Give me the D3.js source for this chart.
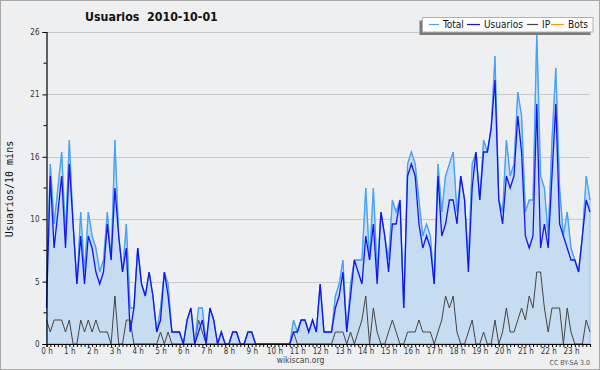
<!DOCTYPE html>
<html>
<head>
<meta charset="utf-8">
<script src="https://cdn.jsdelivr.net/npm/d3@7"></script>
<style>
    body { margin: 0; background: #fff; }
    svg { display: block; }
    text { font-family: "DejaVu Sans Condensed", "DejaVu Sans", sans-serif; font-stretch: condensed; }
</style>
</head>
<body>
<svg id="chart" width="600" height="370"></svg>
<script>
// hour labels on the x axis, one point every 10 minutes
const hourLabels = d3.range(24).map(h => h + ' h');

// values per 10 minutes, one row per hour
const usuarios = [
    3, 14, 8, 11, 14, 8,
    15, 10, 5, 9, 5, 9,
    8, 6, 5, 6, 10, 7,
    13, 9, 6, 8, 1, 3,
    8, 5, 4, 6, 4, 1,
    2, 6, 4, 1, 1, 1,
    0, 2, 3, 0, 1, 2,
    0, 3, 2, 0, 1, 0,
    0, 1, 1, 0, 0, 1,
    1, 0, 0, 0, 0, 0,
    0, 0, 0, 0, 0, 1,
    1, 2, 2, 1, 2, 1,
    5, 1, 1, 1, 3, 4,
    6, 1, 4, 7, 6, 5,
    9, 7, 10, 5, 11, 9,
    6, 10, 10, 12, 3, 14,
    15, 14, 10, 8, 9, 8,
    5, 14, 9, 10, 12, 12,
    10, 14, 12, 6, 13, 16,
    12, 16, 16, 18, 22, 12,
    10, 14, 13, 14, 19, 16,
    9, 8, 9, 20, 8, 10,
    8, 14, 20, 10, 9, 8,
    7, 7, 6, 9, 12, 11
];

const ip = [
    2, 1, 2, 2, 2, 1,
    2, 0, 0, 2, 1, 2,
    1, 2, 1, 1, 1, 0,
    4, 0, 0, 2, 2, 0,
    0, 0, 0, 0, 0, 0,
    1, 0, 1, 0, 0, 0,
    0, 0, 0, 0, 2, 1,
    0, 0, 0, 0, 0, 0,
    0, 0, 0, 0, 0, 0,
    0, 0, 0, 0, 0, 0,
    0, 0, 0, 0, 0, 1,
    0, 0, 0, 0, 0, 0,
    0, 0, 0, 0, 1, 1,
    1, 0, 1, 0, 1, 2,
    4, 0, 3, 1, 0, 0,
    1, 2, 1, 0, 0, 1,
    1, 1, 2, 1, 1, 1,
    0, 1, 2, 4, 3, 4,
    1, 0, 0, 1, 2, 0,
    0, 1, 0, 0, 2, 0,
    1, 3, 1, 1, 2, 3,
    2, 4, 3, 6, 6, 3,
    1, 3, 3, 3, 0, 3,
    1, 0, 0, 0, 2, 1
];

const total = [
    5, 15, 10, 13, 16, 9,
    17, 10, 5, 11, 6, 11,
    9, 8, 6, 7, 11, 7,
    17, 9, 6, 10, 3, 3,
    8, 5, 4, 6, 4, 1,
    3, 6, 5, 1, 1, 1,
    0, 2, 3, 0, 3, 3,
    0, 3, 2, 0, 1, 0,
    0, 1, 1, 0, 0, 1,
    1, 0, 0, 0, 0, 0,
    0, 0, 0, 0, 0, 2,
    1, 2, 2, 1, 2, 1,
    5, 1, 1, 1, 4, 5,
    7, 1, 5, 7, 7, 7,
    13, 7, 13, 6, 11, 9,
    7, 12, 11, 12, 3, 15,
    16, 15, 12, 9, 10, 9,
    5, 15, 11, 14, 15, 16,
    11, 14, 12, 7, 15, 16,
    12, 17, 16, 18, 24, 12,
    11, 17, 14, 15, 21, 19,
    11, 12, 12, 26, 14, 13,
    9, 17, 23, 13, 9, 11,
    8, 7, 6, 9, 14, 12
];

const bots = [
    0, 0, 0, 0, 0, 0,  0, 0, 0, 0, 0, 0,  0, 0, 0, 0, 0, 0,  0, 0, 0, 0, 0, 0,
    0, 0, 0, 0, 0, 0,  0, 0, 0, 0, 0, 0,  0, 0, 0, 0, 0, 0,  0, 0, 0, 0, 0, 0,
    0, 0, 0, 0, 0, 0,  0, 0, 0, 0, 0, 0,  0, 0, 0, 0, 0, 0,  0, 0, 0, 0, 0, 0,
    0, 0, 0, 0, 0, 0,  0, 0, 0, 0, 0, 0,  0, 0, 0, 0, 0, 0,  0, 0, 0, 0, 0, 0,
    0, 0, 0, 0, 0, 0,  0, 0, 0, 0, 0, 0,  0, 0, 0, 0, 0, 0,  0, 0, 0, 0, 0, 0,
    0, 0, 0, 0, 0, 0,  0, 0, 0, 0, 0, 0,  0, 0, 0, 0, 0, 0,  0, 0, 0, 0, 0, 0
];

const yMax = 26;
const yTicks = [0, 1, 2, 3, 4, 5].map(k => k * 5.2);
const yMinorTicks = [0, 1, 2, 3, 4].map(k => k * 5.2 + 2.6);

const series = [
    { name: 'Total', values: total, color: '#45a2f8', width: 1.3 },
    { name: 'Usuarios', values: usuarios, color: '#1414f0', width: 1.3 },
    { name: 'IP', values: ip, color: '#444444', width: 1 },
    { name: 'Bots', values: bots, color: '#ff9900', width: 1 }
];

const svg = d3.select('#chart');
const W = 600, H = 370;
const plot = { left: 46.5, right: 590, top: 32, bottom: 344 };

// background and frame
svg.append('rect')
    .attr('x', 0.5).attr('y', 0.5)
    .attr('width', W - 1).attr('height', H - 1)
    .attr('fill', '#eeeff1')
    .attr('stroke', '#a8a8a8');

const x = d3.scaleLinear().domain([0, total.length - 1]).range([plot.left, plot.right]);
const y = d3.scaleLinear().domain([0, yMax]).range([plot.bottom, plot.top]);

// grid
svg.append('g')
    .selectAll('line')
    .data(yTicks.slice(1))
    .enter()
    .append('line')
    .attr('x1', plot.left).attr('x2', plot.right)
    .attr('y1', d => Math.round(y(d)) + 0.5).attr('y2', d => Math.round(y(d)) + 0.5)
    .attr('stroke', '#c9c9c9');

// area under total
const area = d3.area()
    .x((d, i) => x(i))
    .y0(y(0))
    .y1(d => y(d));

svg.append('path')
    .datum(total)
    .attr('d', area)
    .attr('fill', '#c6dcf0')
    .attr('stroke', '#8fc2f0')
    .attr('stroke-width', 1);

const line = d3.line()
    .x((d, i) => x(i))
    .y(d => y(d));

// draw bots first, then IP, Total, Usuarios on top
['Bots', 'IP', 'Total', 'Usuarios'].forEach(name => {
    const s = series.find(d => d.name === name);
    svg.append('path')
        .datum(s.values)
        .attr('d', line)
        .attr('fill', 'none')
        .attr('stroke', s.color)
        .attr('stroke-width', s.width)
        .attr('stroke-linejoin', 'miter');
});

// y axis
const yAxis = svg.append('g')
    .attr('transform', `translate(${plot.left},0)`)
    .call(d3.axisLeft(y).tickValues(yTicks).tickFormat(d3.format('.0f')).tickSize(4).tickPadding(3));

svg.append('g')
    .attr('transform', `translate(${plot.left},0)`)
    .selectAll('line')
    .data(yMinorTicks)
    .enter()
    .append('line')
    .attr('x1', -3).attr('x2', 0)
    .attr('y1', d => y(d)).attr('y2', d => y(d))
    .attr('stroke', '#000');

// x axis, one tick per 10 minutes
const xAxis = svg.append('g')
    .attr('transform', `translate(0,${plot.bottom})`)
    .call(d3.axisBottom(x)
        .tickValues(d3.range(total.length))
        .tickFormat(i => i % 6 === 0 ? hourLabels[i / 6] : '')
        .tickSize(3)
        .tickPadding(1));

[yAxis, xAxis].forEach(g => {
    g.select('.domain').attr('stroke', '#000').attr('stroke-width', 1.2);
    g.selectAll('.tick line').attr('stroke', '#000');
    g.selectAll('text')
        .attr('fill', '#333')
        .style('font-size', '8px');
});

// y label
svg.append('text')
    .attr('transform', 'translate(13,189) rotate(-90)')
    .attr('text-anchor', 'middle')
    .style('font-family', '"DejaVu Sans Mono", monospace')
    .style('font-stretch', 'normal')
    .style('font-size', '10px')
    .attr('fill', '#111')
    .text('Usuarios/10 mins');

// title
svg.append('text')
    .attr('x', 85).attr('y', 21)
    .style('font-size', '12.3px')
    .style('font-weight', 'bold')
    .style('white-space', 'pre')
    .attr('fill', '#111')
    .text('Usuarios  2010-10-01');

// legend
const legend = svg.append('g');
legend.append('rect')
    .attr('x', 419.5).attr('y', 20.5)
    .attr('width', 171).attr('height', 14.5)
    .attr('fill', '#7a7a7a');
legend.append('rect')
    .attr('x', 422.5).attr('y', 17.5)
    .attr('width', 170.5).attr('height', 14.5)
    .attr('fill', '#fff')
    .attr('stroke', '#b0b0b0');

const legendPos = [
    { name: 'Total', x1: 429, x2: 439, tx: 443 },
    { name: 'Usuarios', x1: 467, x2: 480, tx: 484 },
    { name: 'IP', x1: 527, x2: 538, tx: 542 },
    { name: 'Bots', x1: 551, x2: 564, tx: 568 }
];
legendPos.forEach(p => {
    const s = series.find(d => d.name === p.name);
    legend.append('line')
        .attr('x1', p.x1).attr('x2', p.x2)
        .attr('y1', 24.5).attr('y2', 24.5)
        .attr('stroke', s.color)
        .attr('stroke-width', 1.2);
    legend.append('text')
        .attr('x', p.tx).attr('y', 28.3)
        .style('font-size', '10px')
        .attr('fill', '#111')
        .text(p.name);
});

// footer
svg.append('text')
    .attr('x', 300.5).attr('y', 363)
    .attr('text-anchor', 'middle')
    .style('font-size', '8.5px')
    .attr('fill', '#444')
    .text('wikiscan.org');

svg.append('text')
    .attr('x', 590).attr('y', 365)
    .attr('text-anchor', 'end')
    .style('font-size', '7px')
    .attr('fill', '#555')
    .text('CC BY-SA 3.0');
</script>
</body>
</html>
